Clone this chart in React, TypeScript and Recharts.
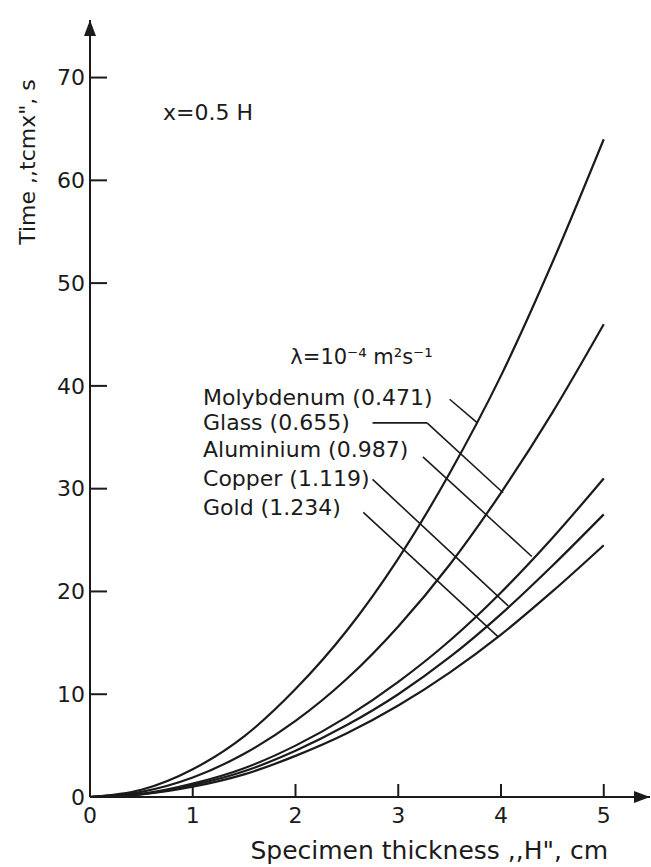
import { LineChart, Line, XAxis, YAxis, ReferenceLine, ReferenceDot, Label } from "recharts"

// specimen thickness H, cm
const thickness = [0, 0.5, 1, 1.5, 2, 2.5, 3, 3.5, 4, 4.5, 5]

// time to reach x = 0.5 H, s
const molybdenum = [0, 0.7, 2.7, 5.9, 10.5, 16.2, 23.2, 31.5, 41, 52, 64]
const glass = [0, 0.5, 1.9, 4.2, 7.4, 11.5, 16.6, 22.6, 29.6, 37.4, 46]
const aluminium = [0, 0.3, 1.3, 2.8, 5.0, 7.8, 11.2, 15.2, 19.9, 25.2, 31]
const copper = [0, 0.28, 1.15, 2.5, 4.5, 7.0, 10.0, 13.6, 17.8, 22.5, 27.5]
const gold = [0, 0.25, 1.0, 2.2, 4.0, 6.2, 8.9, 12.1, 15.8, 20, 24.5]

const xTicks = [0, 1, 2, 3, 4, 5]
const yTicks = [0, 10, 20, 30, 40, 50, 60, 70]

const seriesKeys = ["molybdenum", "glass", "aluminium", "copper", "gold"]

// label text and where it starts (H, time)
const curveLabels = [
  { text: "Molybdenum (0.471)", h: 1.1, t: 38.9 },
  { text: "Glass (0.655)", h: 1.1, t: 36.5 },
  { text: "Aluminium (0.987)", h: 1.1, t: 33.8 },
  { text: "Copper (1.119)", h: 1.1, t: 31.0 },
  { text: "Gold (1.234)", h: 1.1, t: 28.2 },
]

// leader lines from each label to its curve
const leaders = [
  [{ x: 3.5, y: 38.7 }, { x: 3.77, y: 36.4 }],
  [{ x: 2.75, y: 36.4 }, { x: 3.28, y: 36.4 }],
  [{ x: 3.28, y: 36.4 }, { x: 4.02, y: 29.6 }],
  [{ x: 3.24, y: 33.1 }, { x: 4.3, y: 23.4 }],
  [{ x: 2.75, y: 30.9 }, { x: 4.07, y: 18.6 }],
  [{ x: 2.66, y: 27.7 }, { x: 3.97, y: 15.6 }],
]

const data = thickness.map((h, i) => ({
  h,
  molybdenum: molybdenum[i],
  glass: glass[i],
  aluminium: aluminium[i],
  copper: copper[i],
  gold: gold[i],
}))

const INK = "#1b1b1b"
const FONT = "'DejaVu Sans', sans-serif"

const YTick = ({ x, y, payload }: any) => (
  <g>
    <line x1={x} x2={x + 17} y1={y} y2={y} stroke={INK} strokeWidth={2} />
    <text x={x - 5} y={y} dy="0.35em" textAnchor="end" fontSize={22} fontFamily={FONT} fill={INK}>
      {payload.value}
    </text>
  </g>
)

const XTick = ({ x, y, payload }: any) => (
  <g>
    <line x1={x} x2={x} y1={y} y2={y - 13} stroke={INK} strokeWidth={2} />
    <text x={x} y={y + 18} dy="0.35em" textAnchor="middle" fontSize={22} fontFamily={FONT} fill={INK}>
      {payload.value}
    </text>
  </g>
)

const ArrowRight = ({ cx, cy }: any) => (
  <path d={`M${cx},${cy} L${cx - 16},${cy - 6} L${cx - 16},${cy + 6} Z`} fill={INK} />
)

const ArrowUp = ({ cx, cy }: any) => (
  <path d={`M${cx},${cy} L${cx - 6},${cy + 16} L${cx + 6},${cy + 16} Z`} fill={INK} />
)

const textAt = (text: any, size = 22) => ({ cx, cy }: any) => (
  <text x={cx} y={cy} dy="0.35em" fontSize={size} fontFamily={FONT} fill={INK}>
    {text}
  </text>
)

export default function App() {
  return (
    <div style={{ position: "absolute", left: 0, top: 0, background: "#fff" }}>
      <LineChart width={651} height={867} data={data} margin={{ top: 20, right: 1, left: 30, bottom: 0 }}>
        <XAxis
          dataKey="h"
          type="number"
          domain={[0, 5.45]}
          ticks={xTicks}
          tick={<XTick />}
          tickLine={false}
          tickSize={0}
          tickMargin={0}
          height={70}
          axisLine={{ stroke: INK, strokeWidth: 2 }}
          allowDataOverflow
        >
          <Label
            content={({ viewBox }: any) => (
              <text
                x={viewBox.x + viewBox.width - 42}
                y={viewBox.y + 53}
                dy="0.35em"
                textAnchor="end"
                fontSize={25}
                fontFamily={FONT}
                fill={INK}
              >
                Specimen thickness ,,H", cm
              </text>
            )}
          />
        </XAxis>
        <YAxis
          type="number"
          domain={[0, 75.6]}
          ticks={yTicks}
          tick={<YTick />}
          tickLine={false}
          tickSize={0}
          tickMargin={0}
          width={60}
          axisLine={{ stroke: INK, strokeWidth: 2 }}
          allowDataOverflow
        >
          <Label
            content={({ viewBox }: any) => (
              <text
                transform={`translate(${viewBox.x - 3}, ${viewBox.y + 142}) rotate(-90)`}
                dy="0.35em"
                textAnchor="middle"
                fontSize={22}
                fontFamily={FONT}
                fill={INK}
              >
                Time ,,tcmx", s
              </text>
            )}
          />
        </YAxis>

        {seriesKeys.map((key) => (
          <Line
            key={key}
            dataKey={key}
            type="monotone"
            stroke={INK}
            strokeWidth={2.2}
            dot={false}
            isAnimationActive={false}
          />
        ))}

        {leaders.map((seg, i) => (
          <ReferenceLine key={i} segment={seg} stroke={INK} strokeWidth={1.6} ifOverflow="visible" />
        ))}

        {curveLabels.map((l) => (
          <ReferenceDot key={l.text} x={l.h} y={l.t} r={0} ifOverflow="visible" shape={textAt(l.text)} />
        ))}
        <ReferenceDot x={0.71} y={66.6} r={0} ifOverflow="visible" shape={textAt("x=0.5 H")} />
        <ReferenceDot x={1.95} y={42.8} r={0} ifOverflow="visible" shape={textAt("λ=10⁻⁴ m²s⁻¹", 21)} />

        <ReferenceDot x={5.45} y={0} r={0} ifOverflow="visible" shape={<ArrowRight />} />
        <ReferenceDot x={0} y={75.6} r={0} ifOverflow="visible" shape={<ArrowUp />} />
      </LineChart>
    </div>
  )
}
